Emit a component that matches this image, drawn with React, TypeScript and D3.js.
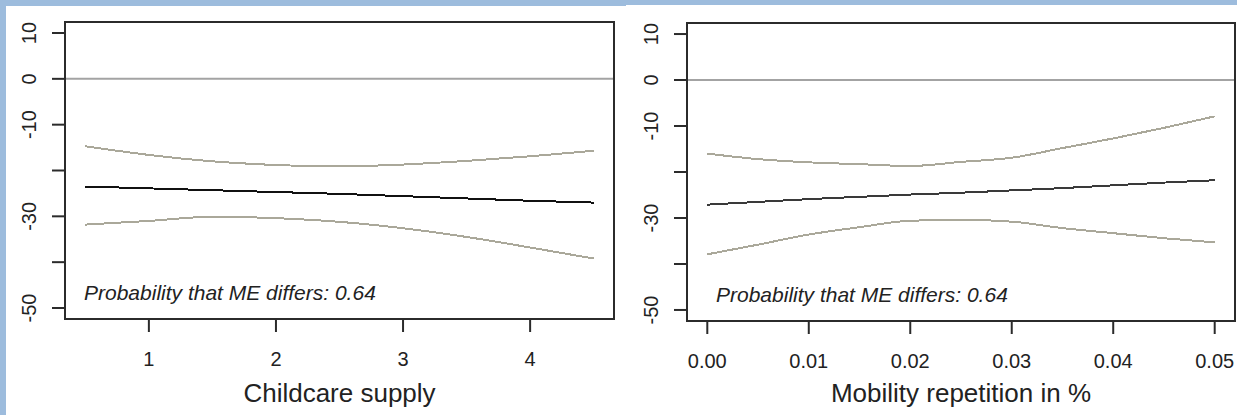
import React, { useRef, useEffect } from 'react';
import * as d3 from 'd3';

// marginal effect panels
const childcareX = [0.5, 1, 1.5, 2, 2.5, 3, 3.5, 4, 4.5];
const childcareME = [-23.5, -23.9, -24.3, -24.7, -25.1, -25.6, -26.1, -26.6, -27.0];
const childcareUpper = [-14.7, -16.6, -18.0, -18.8, -19.1, -18.7, -17.9, -16.9, -15.7];
const childcareLower = [-31.8, -31.0, -30.1, -30.4, -31.2, -32.6, -34.5, -36.8, -39.2];
const childcareTicks = [1, 2, 3, 4];

const mobilityX = [0, 0.005, 0.01, 0.015, 0.02, 0.025, 0.03, 0.035, 0.04, 0.045, 0.05];
const mobilityME = [-27.1, -26.5, -25.9, -25.4, -24.9, -24.5, -24.0, -23.5, -22.9, -22.3, -21.8];
const mobilityUpper = [-16.0, -17.2, -17.9, -18.3, -18.7, -17.8, -16.9, -14.8, -12.7, -10.4, -7.9];
const mobilityLower = [-37.9, -35.8, -33.6, -32.0, -30.6, -30.4, -30.8, -32.2, -33.3, -34.4, -35.3];
const mobilityTicks = [0, 0.01, 0.02, 0.03, 0.04, 0.05];

const yTicks = [-50, -40, -30, -20, -10, 0, 10];
const yLabels = [-50, -30, -10, 0, 10];
const note = 'Probability that ME differs: 0.64';

const W = 1237;
const H = 415;
const FONT = '"Liberation Sans", Arial, sans-serif';

const panels = [
  {
    x: childcareX, me: childcareME, up: childcareUpper, lo: childcareLower,
    ticks: childcareTicks, fmt: d3.format('d'), title: 'Childcare supply',
    left: 65, right: 614, top: 22, bottom: 319, meColor: '#111', noteX: 84
  },
  {
    x: mobilityX, me: mobilityME, up: mobilityUpper, lo: mobilityLower,
    ticks: mobilityTicks, fmt: d3.format('.2f'), title: 'Mobility repetition in %',
    left: 687, right: 1235, top: 23, bottom: 321, meColor: '#3a3a3a', noteX: 716
  }
];

const App = () => {
  const svgRef = useRef(null);

  useEffect(() => {
    const svg = d3.select(svgRef.current);
    svg.selectAll('*').remove();

    svg.append('rect').attr('width', W).attr('height', H).attr('fill', '#fff');
    // blue slide frame
    svg.append('rect').attr('x', 0).attr('y', 0).attr('width', 626).attr('height', 6).attr('fill', '#9dbcdd');
    svg.append('rect').attr('x', 626).attr('y', 0).attr('width', W - 626).attr('height', 5).attr('fill', '#9dbcdd');
    svg.append('rect').attr('x', 0).attr('y', 0).attr('width', 6).attr('height', H).attr('fill', '#9dbcdd');

    panels.forEach((p) => {
      const g = svg.append('g');
      const xMin = d3.min(p.x);
      const xMax = d3.max(p.x);
      const pad = (xMax - xMin) * 0.04;
      const xScale = d3.scaleLinear().domain([xMin - pad, xMax + pad]).range([p.left, p.right]);
      const yScale = d3.scaleLinear().domain([-52.4, 12.4]).range([p.bottom, p.top]);

      // zero line
      g.append('line')
        .attr('x1', p.left).attr('x2', p.right)
        .attr('y1', yScale(0)).attr('y2', yScale(0))
        .attr('stroke', '#a3a3a3').attr('stroke-width', 2);

      const line = d3.line()
        .x((d) => xScale(d[0]))
        .y((d) => yScale(d[1]))
        .curve(d3.curveMonotoneX);

      const series = [
        { v: p.up, c: '#aaa89a' },
        { v: p.lo, c: '#aaa89a' },
        { v: p.me, c: p.meColor }
      ];
      series.forEach((s) => {
        g.append('path')
          .attr('d', line(p.x.map((x, i) => [x, s.v[i]])))
          .attr('fill', 'none')
          .attr('stroke', s.c)
          .attr('stroke-width', 2)
          .attr('shape-rendering', 'crispEdges');
      });

      // box
      g.append('rect')
        .attr('x', p.left).attr('y', p.top)
        .attr('width', p.right - p.left).attr('height', p.bottom - p.top)
        .attr('fill', 'none').attr('stroke', '#2b2b2b').attr('stroke-width', 2);

      // y axis
      g.selectAll('.ytick')
        .data(yTicks)
        .join('line')
        .attr('x1', p.left - 13).attr('x2', p.left)
        .attr('y1', (d) => yScale(d)).attr('y2', (d) => yScale(d))
        .attr('stroke', '#2b2b2b').attr('stroke-width', 2);
      g.selectAll('.ylab')
        .data(yLabels)
        .join('text')
        .attr('transform', (d) => `translate(${p.left - 29},${yScale(d)}) rotate(-90)`)
        .attr('text-anchor', 'middle')
        .attr('font-family', FONT)
        .attr('font-size', 20)
        .attr('fill', '#222')
        .text((d) => d);

      // x axis
      g.selectAll('.xtick')
        .data(p.ticks)
        .join('line')
        .attr('x1', (d) => xScale(d)).attr('x2', (d) => xScale(d))
        .attr('y1', p.bottom).attr('y2', p.bottom + 13)
        .attr('stroke', '#2b2b2b').attr('stroke-width', 2);
      g.selectAll('.xlab')
        .data(p.ticks)
        .join('text')
        .attr('x', (d) => xScale(d))
        .attr('y', p.bottom + 47)
        .attr('text-anchor', 'middle')
        .attr('font-family', FONT)
        .attr('font-size', 20)
        .attr('fill', '#222')
        .text((d) => p.fmt(d));

      g.append('text')
        .attr('x', (p.left + p.right) / 2)
        .attr('y', 402)
        .attr('text-anchor', 'middle')
        .attr('font-family', FONT)
        .attr('font-size', 26)
        .attr('fill', '#222')
        .text(p.title);

      g.append('text')
        .attr('x', p.noteX)
        .attr('y', p.bottom - 19)
        .attr('font-family', FONT)
        .attr('font-style', 'italic')
        .attr('font-size', 21)
        .attr('fill', '#222')
        .text(note);
    });
  }, []);

  return (
    <svg ref={svgRef} width={W} height={H} style={{ position: 'absolute', left: 0, top: 0 }} />
  );
};

export default App;
